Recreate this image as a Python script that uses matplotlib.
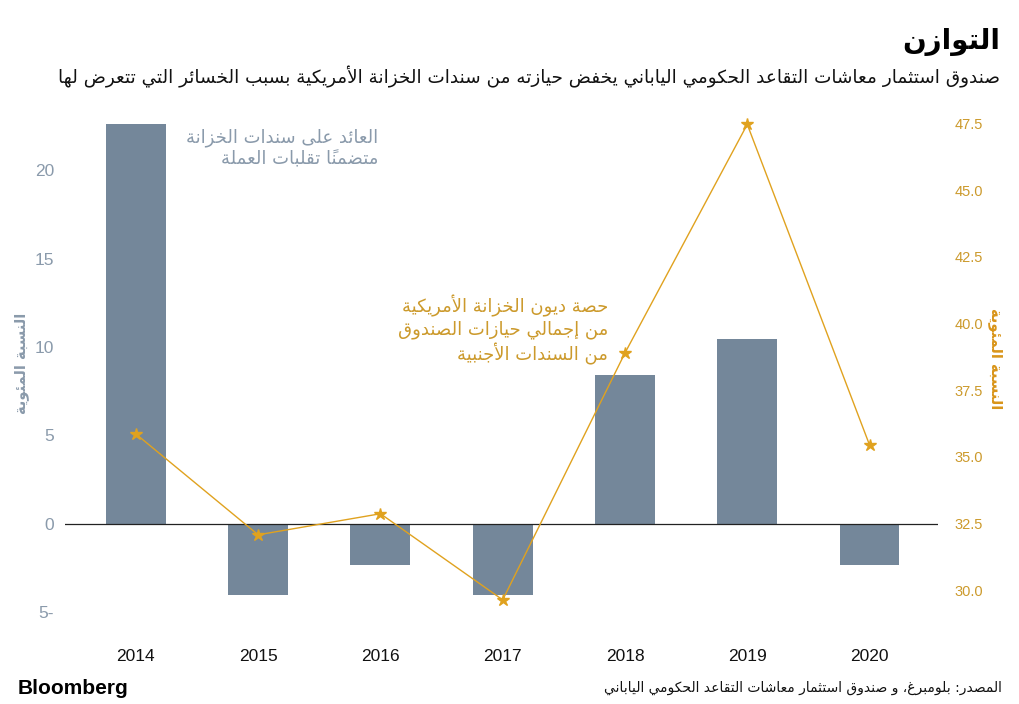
import numpy as np
import matplotlib
matplotlib.use('Agg')
import matplotlib.pyplot as plt
from matplotlib.ticker import FixedLocator, FixedFormatter

# data
years = ['2014', '2015', '2016', '2017', '2018', '2019', '2020']
returns = [22.6, -4.0, -2.3, -4.0, 8.4, 10.45, -2.3]          # left axis, %
share = [35.85, 32.07, 32.86, 29.63, 38.89, 47.46, 35.44]     # right axis, %
left_ticks = [-5, 0, 5, 10, 15, 20]
left_ticklabels = ['5-', '0', '5', '10', '15', '20']
right_ticks = [30.0, 32.5, 35.0, 37.5, 40.0, 42.5, 45.0, 47.5]

title = 'التوازن'
subtitle = 'صندوق استثمار معاشات التقاعد الحكومي الياباني يخفض حيازته من سندات الخزانة الأمريكية بسبب الخسائر التي تتعرض لها'
bar_note = ['العائد على سندات الخزانة', 'متضمناً تقلبات العملة']
line_note = ['حصة ديون الخزانة الأمريكية', 'من إجمالي حيازات الصندوق', 'من السندات الأجنبية']
ylab = 'النسبة المئوية'
source = 'المصدر: بلومبرغ، و صندوق استثمار معاشات التقاعد الحكومي الياباني'

# --- tiny arabic shaper (matplotlib has no shaping / bidi) ---
# (letter, first presentation form, number of forms: iso, fin, ini, med)
_tab = [('\u0621', 0xFE80, 1), ('\u0622', 0xFE81, 2), ('\u0623', 0xFE83, 2),
        ('\u0624', 0xFE85, 2), ('\u0625', 0xFE87, 2), ('\u0626', 0xFE89, 4),
        ('\u0627', 0xFE8D, 2), ('\u0628', 0xFE8F, 4), ('\u0629', 0xFE93, 2),
        ('\u062A', 0xFE95, 4), ('\u062B', 0xFE99, 4), ('\u062C', 0xFE9D, 4),
        ('\u062D', 0xFEA1, 4), ('\u062E', 0xFEA5, 4), ('\u062F', 0xFEA9, 2),
        ('\u0630', 0xFEAB, 2), ('\u0631', 0xFEAD, 2), ('\u0632', 0xFEAF, 2),
        ('\u0633', 0xFEB1, 4), ('\u0634', 0xFEB5, 4), ('\u0635', 0xFEB9, 4),
        ('\u0636', 0xFEBD, 4), ('\u0637', 0xFEC1, 4), ('\u0638', 0xFEC5, 4),
        ('\u0639', 0xFEC9, 4), ('\u063A', 0xFECD, 4), ('\u0641', 0xFED1, 4),
        ('\u0642', 0xFED5, 4), ('\u0643', 0xFED9, 4), ('\u0644', 0xFEDD, 4),
        ('\u0645', 0xFEE1, 4), ('\u0646', 0xFEE5, 4), ('\u0647', 0xFEE9, 4),
        ('\u0648', 0xFEED, 2), ('\u0649', 0xFEEF, 2), ('\u064A', 0xFEF1, 4)]
FORMS = {c: (s, n) for c, s, n in _tab}
MARKS = set(chr(c) for c in range(0x064B, 0x0653))
LAMALEF = {'\u0622': 0xFEF5, '\u0623': 0xFEF7, '\u0625': 0xFEF9, '\u0627': 0xFEFB}


def _kind(b):
    if b.startswith('LA'):
        return 2
    return FORMS[b][1] if b in FORMS else 0


def ar(text):
    cl = []
    for ch in text:
        if ch in MARKS and cl:
            cl[-1][1] += ch
        elif ch in LAMALEF and cl and cl[-1][0] == '\u0644' and not cl[-1][1]:
            cl[-1][0] = 'LA' + ch
        else:
            cl.append([ch, ''])
    out = []
    for i, (b, m) in enumerate(cl):
        k = _kind(b)
        pk = _kind(cl[i - 1][0]) if i > 0 else 0
        nk = _kind(cl[i + 1][0]) if i + 1 < len(cl) else 0
        jp = k >= 2 and pk == 4
        jn = k == 4 and nk >= 2
        if k == 0:
            g = b
        elif b.startswith('LA'):
            g = chr(LAMALEF[b[2]] + (1 if jp else 0))
        else:
            s = FORMS[b][0]
            if jp and jn:
                g = chr(s + 3)
            elif jp:
                g = chr(s + 1)
            elif jn:
                g = chr(s + 2)
            else:
                g = chr(s)
        out.append(g + m)
    return ''.join(reversed(out))


plt.rcParams['font.family'] = ['DejaVu Sans']
W, H = 1020, 704
bar_color = '#74879a'
grey_txt = '#8a9aab'
orange = '#e0a21f'
orange_txt = '#cc9a2c'
num_font = 'Liberation Sans'

fig = plt.figure(figsize=(W / 100, H / 100), dpi=100)
ax1 = fig.add_axes([65 / W, 1 - 630 / H, (938 - 65) / W, (630 - 110) / H])
ax2 = ax1.twinx()

x = np.arange(len(years))
ax1.bar(x, returns, width=0.49, color=bar_color, zorder=2)
ax1.axhline(0, color='#222222', lw=0.9, zorder=3)
ax1.set_xlim(-0.58, 6.56)
ax1.set_ylim(-6.0, 23.4)
ax2.set_ylim(28.5, 48.0)

ax2.plot(x, share, '-', color=orange, lw=1.0, marker='*', ms=9,
         markeredgecolor=orange, markerfacecolor=orange, zorder=5)

for a in (ax1, ax2):
    for s in a.spines.values():
        s.set_visible(False)
ax1.set_xticks(x)
ax1.set_xticklabels(years, fontsize=12.5, color='#111111', family=num_font)
ax1.tick_params(axis='x', length=0, pad=14)
ax1.yaxis.set_major_locator(FixedLocator(left_ticks))
ax1.yaxis.set_major_formatter(FixedFormatter(left_ticklabels))
ax1.tick_params(axis='y', length=0, pad=8, labelsize=12.5, labelcolor=grey_txt)
for t in ax1.get_yticklabels():
    t.set_family(num_font)
ax2.set_yticks(right_ticks)
ax2.set_yticklabels(['%.1f' % v for v in right_ticks], family=num_font)
ax2.tick_params(axis='y', length=0, pad=12, labelsize=10.5, labelcolor=orange_txt)

# titles
fig.text(1000 / W, 1 - 42 / H, ar(title), ha='right', va='center',
         fontsize=20, fontweight='bold', color='black')
fig.text(1000 / W, 1 - 77 / H, ar(subtitle), ha='right', va='center',
         fontsize=13.2, color='#111111')

# annotations
fig.text(378 / W, 1 - 148 / H, '\n'.join(ar(s) for s in bar_note), ha='right',
         va='center', fontsize=13, color=grey_txt, linespacing=1.25)
fig.text(608 / W, 1 - 330 / H, '\n'.join(ar(s) for s in line_note), ha='right',
         va='center', fontsize=13, color=orange_txt, linespacing=1.25)

# axis labels
fig.text(22 / W, 1 - 363 / H, ar(ylab), rotation=90, ha='center', va='center',
         fontsize=10.5, fontweight='bold', color=grey_txt)
fig.text(996 / W, 1 - 359 / H, ar(ylab), rotation=270, ha='center', va='center',
         fontsize=10.5, fontweight='bold', color='#d9951a')

# footer
fig.text(18 / W, 1 - 688 / H, 'Bloomberg', ha='left', va='center',
         fontsize=15, fontweight='bold', color='black', family='Liberation Sans')
fig.text(1002 / W, 1 - 688 / H, ar(source), ha='right', va='center',
         fontsize=10, color='#111111')

fig.savefig('out.png', dpi=100)
